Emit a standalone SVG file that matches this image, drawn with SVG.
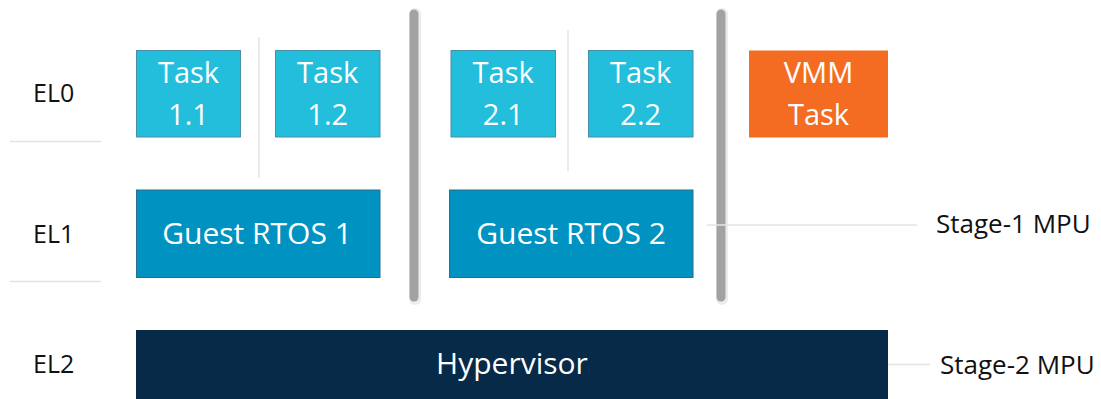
<svg xmlns="http://www.w3.org/2000/svg" width="1101" height="399" viewBox="0 0 1101 399">
  <style>
    text { font-family: "Open Sans", "Noto Sans", "Liberation Sans", sans-serif; }
    .lvl { font-size: 25px; fill: #111111; }
    .mpu { font-size: 26px; fill: #111111; }
    .lbl { font-size: 29px; fill: #ffffff; text-anchor: middle; }
    .big { font-size: 30px; }
    .task { fill: #22bedc; stroke: #4a8fa8; stroke-width: 1; }
    .guest { fill: #0092c0; stroke: #2a6f8a; stroke-width: 1; }
    .vmm { fill: #f36c22; }
    .hyp { fill: #062a47; }
    .sep { stroke: #e4e4e4; stroke-width: 1.5; fill: none; }
    .bar { stroke: #a2a2a2; stroke-width: 9; stroke-linecap: round; fill: none; }
    .barhalo { stroke: #ececec; stroke-width: 12; stroke-linecap: round; fill: none; }
  </style>

  <!-- exception level labels and their row rules -->
  <g id="levels">
    <text class="lvl" x="33" y="102">EL0</text>
    <text class="lvl" x="33" y="243">EL1</text>
    <text class="lvl" x="33" y="373">EL2</text>
    <line class="sep" x1="10" y1="141.5" x2="101" y2="141.5"/>
    <line class="sep" x1="10" y1="281.5" x2="101" y2="281.5"/>
  </g>

  <!-- partition bars and thin task dividers -->
  <g id="connectors">
    <line class="sep" x1="259" y1="37" x2="259" y2="178"/>
    <line class="sep" x1="568" y1="30" x2="568" y2="171"/>
    <line class="barhalo" x1="415" y1="14" x2="415" y2="299"/>
    <line class="bar" x1="414" y1="14" x2="414" y2="297"/>
    <line class="barhalo" x1="722" y1="14" x2="722" y2="299"/>
    <line class="bar" x1="721" y1="14" x2="721" y2="297"/>
    <line class="sep" x1="707" y1="225" x2="917" y2="225"/>
    <line class="sep" x1="888" y1="364.5" x2="930" y2="364.5"/>
  </g>

  <g id="task-1-1">
    <rect class="task" x="136.5" y="50.5" width="104" height="86.5"/>
    <text class="lbl" x="188.5" y="83">Task</text>
    <text class="lbl" x="188.5" y="125">1.1</text>
  </g>
  <g id="task-1-2">
    <rect class="task" x="275.5" y="50.5" width="104.5" height="86.5"/>
    <text class="lbl" x="327.7" y="83">Task</text>
    <text class="lbl" x="327.7" y="125">1.2</text>
  </g>
  <g id="task-2-1">
    <rect class="task" x="451" y="50.5" width="104.5" height="86.5"/>
    <text class="lbl" x="503.2" y="83">Task</text>
    <text class="lbl" x="503.2" y="125">2.1</text>
  </g>
  <g id="task-2-2">
    <rect class="task" x="588.5" y="50.5" width="104.5" height="86.5"/>
    <text class="lbl" x="640.7" y="83">Task</text>
    <text class="lbl" x="640.7" y="125">2.2</text>
  </g>
  <g id="vmm-task">
    <rect class="vmm" x="749" y="50.5" width="139" height="87"/>
    <text class="lbl" x="818.5" y="83">VMM</text>
    <text class="lbl" x="818.5" y="125">Task</text>
  </g>

  <g id="guest-rtos-1">
    <rect class="guest" x="136.5" y="190" width="243.5" height="87.5"/>
    <text class="lbl big" x="257" y="244">Guest RTOS 1</text>
  </g>
  <g id="guest-rtos-2">
    <rect class="guest" x="449.5" y="190" width="243.5" height="87.5"/>
    <text class="lbl big" x="571" y="244">Guest RTOS 2</text>
  </g>

  <g id="hypervisor">
    <rect class="hyp" x="136" y="330" width="752" height="69"/>
    <text class="lbl big" x="512" y="374">Hypervisor</text>
  </g>

  <g id="mpu-labels">
    <text class="mpu" x="936" y="233">Stage-1 MPU</text>
    <text class="mpu" x="940" y="374">Stage-2 MPU</text>
  </g>
</svg>
